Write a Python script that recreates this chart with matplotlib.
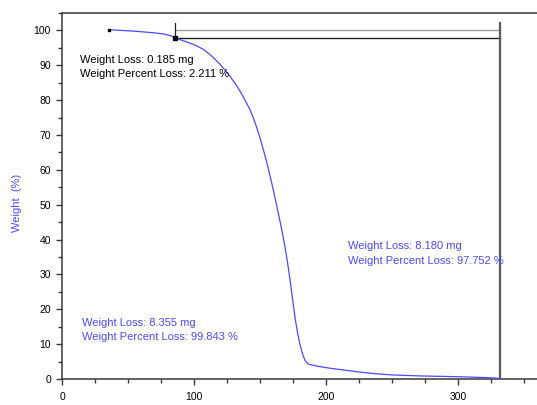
import matplotlib
matplotlib.use("Agg")
import matplotlib.pyplot as plt
from matplotlib.ticker import MultipleLocator

plt.rcParams["font.family"] = ["Liberation Sans", "DejaVu Sans"]

# TGA curve: temperature (deg C) vs weight (%)
temp = [35.5, 54, 70, 78, 82, 85.6, 90, 95, 100, 107, 113, 119.7, 126,
        132.3, 137, 142.4, 145, 147.5, 150, 152.5, 155, 157.5, 160.1, 162,
        163.9, 165.8, 167.7, 169.2, 170.7, 172.7, 174.6, 176.5, 178.4, 180.3,
        182.3, 184.1, 185.4, 186.6, 193, 203, 213, 223, 235, 248.5, 262,
        273.7, 299, 312, 324, 331.8]
weight = [100.2, 99.8, 99.3, 98.9, 98.5, 97.9, 97.3, 96.6, 95.9, 94.6, 92.8,
          90.3, 87.5, 84.2, 81.2, 77.3, 74.9, 72.2, 69.2, 65.9, 62.4, 58.5,
          54.3, 51.0, 47.6, 44.2, 40.6, 37.4, 34.0, 28.8, 23.3, 17.9, 13.5,
          10.0, 7.2, 5.4, 4.7, 4.3, 3.7, 3.1, 2.6, 2.1, 1.6, 1.2, 1.0, 0.86,
          0.66, 0.52, 0.37, 0.16]

step_start = 85.6
step_end = 331.8
step_level = 97.79

labels_black = "Weight Loss: 0.185 mg\nWeight Percent Loss: 2.211 %"
labels_total = "Weight Loss: 8.355 mg\nWeight Percent Loss: 99.843 %"
labels_main = "Weight Loss: 8.180 mg\nWeight Percent Loss: 97.752 %"

BLUE = "#4a4aff"
AX = "#3a3a3a"

fig = plt.figure(figsize=(5.37, 4.05), dpi=100)
ax = fig.add_axes([0.1155, 0.0642, 0.8845, 0.9038])

ax.plot(temp, weight, color=BLUE, lw=0.9, zorder=3)
ax.plot([temp[0]], [weight[0]], "s", color="black", ms=1.8, zorder=4)

# step annotation lines
ax.plot([step_start, step_end], [100.0, 100.0], color="#9a9a9a", lw=1.0, zorder=2)
ax.plot([step_start, step_end], [step_level, step_level], color="#202020", lw=1.0, zorder=2)
ax.plot([step_start, step_start], [97.6, 102.0], color="#202020", lw=0.9, zorder=2)
ax.plot([step_start], [step_level], "s", color="black", ms=2.2, zorder=4)
ax.plot([step_end, step_end], [0, 102.0], color="#5a5a5a", lw=1.6, zorder=2)

ax.text(13.5, 89.5, labels_black, fontsize=8, color="black", va="center",
        ha="left", linespacing=1.55)
ax.text(15.0, 14.0, labels_total, fontsize=8, color=BLUE, va="center",
        ha="left", linespacing=1.55)
ax.text(216.5, 36.0, labels_main, fontsize=8, color=BLUE, va="center",
        ha="left", linespacing=1.55)

ax.set_xlim(0, 360)
ax.set_ylim(0, 105)
ax.xaxis.set_major_locator(MultipleLocator(100))
ax.xaxis.set_minor_locator(MultipleLocator(25))
ax.yaxis.set_major_locator(MultipleLocator(10))
ax.yaxis.set_minor_locator(MultipleLocator(5))
ax.tick_params(which="major", length=4.5, width=1.0, color=AX, labelsize=7.5)
ax.tick_params(axis="x", which="major", pad=5)
ax.tick_params(which="minor", length=3, width=1.0, color=AX)
for s in ("left", "bottom", "top"):
    ax.spines[s].set_color(AX)
    ax.spines[s].set_linewidth(1.1)
ax.spines["right"].set_visible(False)

fig.text(0.032, 0.5, "Weight  (%)", rotation=90, color=BLUE, fontsize=8,
         ha="center", va="center")

fig.savefig("out.png", dpi=100)
